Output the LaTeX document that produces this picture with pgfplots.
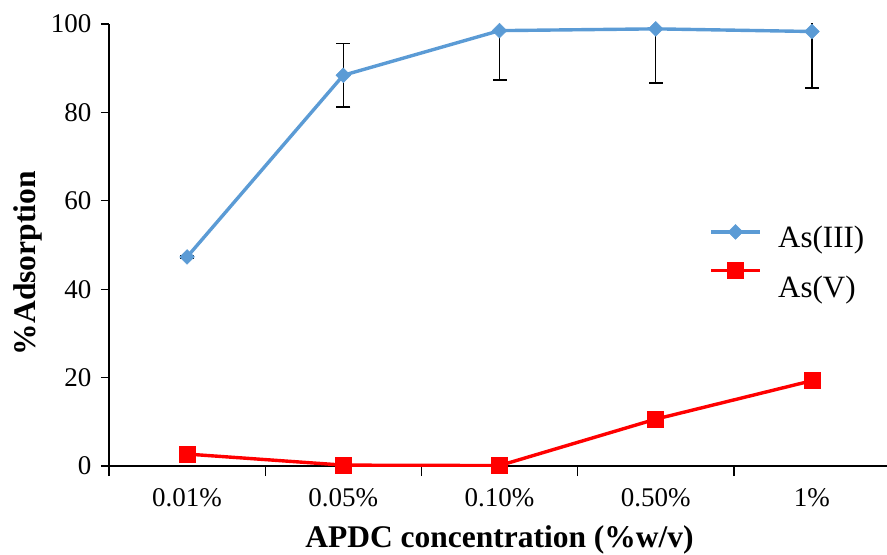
\documentclass[border=0pt]{standalone}
\usepackage{fontspec}
\setmainfont{Liberation Serif}
\usepackage{pgfplots}
\pgfplotsset{compat=1.18}
\definecolor{bl}{HTML}{5B9BD5}
\definecolor{rd}{HTML}{FF0000}
\begin{document}
\begin{tikzpicture}
\begin{axis}[
  name=ax,
  scale only axis,
  width=781pt, height=442pt,
  xmin=-0.5, xmax=4.5, ymin=0, ymax=100,
  axis lines=left,
  axis line style={-, black, line width=1.4pt},
  xtick={0,1,2,3,4},
  xticklabels={0.01\%,0.05\%,0.10\%,0.50\%,1\%},
  minor xtick={-0.5,0.5,1.5,2.5,3.5,4.5},
  ytick={0,20,40,60,80,100},
  tick align=outside,
  x tick style={draw=none},
  minor x tick style={draw=black, line width=1.4pt},
  y tick style={black, line width=1.4pt},
  minor tick length=10pt,
  major tick length=8pt,
  /pgf/number format/assume math mode=true,
  tick label style={font=\fontsize{27}{30}\selectfont},
  xticklabel style={yshift=-11pt},
  yticklabel style={xshift=-6pt},
  xlabel={\textbf{APDC concentration (\%w/v)}},
  ylabel={\textbf{\%Adsorption}},
  every axis x label/.style={at={(axis description cs:0.5,-0.185)}, anchor=base, font=\fontsize{31.5}{34}\selectfont},
  every axis y label/.style={at={(axis description cs:-0.1037,0.459)}, anchor=center, rotate=90, font=\fontsize{31.5}{34}\selectfont},
  legend style={draw=none, fill=none, at={(rel axis cs:0.769,0.547)}, anchor=north west,
    font=\fontsize{31}{31}\selectfont, row sep=11pt, column sep=14pt, inner sep=0pt},
  legend cell align=left,
  legend image code/.code={\draw[#1] (0pt,0pt) -- (24pt,0pt) plot coordinates {(24pt,0pt)} -- (49pt,0pt);},
]
\addplot[color=bl, line width=3.4pt, mark=square*, mark size=5.2pt, mark options={fill=bl, draw=bl, line width=0.5pt, rotate=45},
  legend image post style={yshift=6pt},
  error bars/.cd, y dir=both, y explicit,
  error bar style={black, line width=1.5pt}, error mark options={rotate=90, mark size=7pt, black, line width=1.5pt}]
  coordinates {
  (0,47.3) +- (0,0.3)
  (1,88.4) +- (0,7.2)
  (2,98.5) +- (0,11.2)
  (3,98.9) +- (0,12.2)
  (4,98.3) +- (0,12.8)
  };
\addlegendentry{As(III)}
\addplot[color=rd, line width=3.4pt, mark=square*, mark size=8pt, mark options={fill=rd, draw=rd, line width=0.5pt},
  legend image post style={yshift=17pt}]
  coordinates {
  (0,2.7) (1,0.2) (2,0.1) (3,10.6) (4,19.3)
  };
\addlegendentry{As(V)}
\end{axis}
\pgfresetboundingbox
\path[use as bounding box] ([xshift=-109pt,yshift=-88pt]ax.south west) rectangle ([xshift=-3pt,yshift=24pt]ax.north east);
\end{tikzpicture}
\end{document}
